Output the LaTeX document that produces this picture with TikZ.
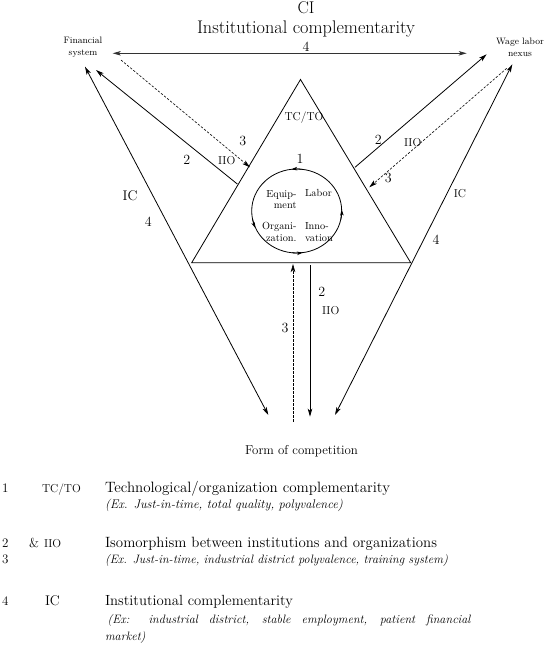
\documentclass[tikz,border=0pt]{standalone}
\usetikzlibrary{arrows.meta,calc}
\newlength\fitlen
\newcommand\fitsize[3]{% #1 macro, #2 target width, #3 text (current shape)
  \settowidth\fitlen{\fontsize{10}{12}\selectfont #3}\pgfmathsetmacro#1{10*#2/\fitlen}%
  \settowidth\fitlen{\fontsize{#1 pt}{12}\selectfont #3}\pgfmathsetmacro#1{#1*#2/\fitlen}%
  \settowidth\fitlen{\fontsize{#1 pt}{12}\selectfont #3}\pgfmathsetmacro#1{#1*#2/\fitlen}}
\newcommand\fitrm[2]{\fitsize\fitsz{#1}{#2}\fontsize{\fitsz pt}{\fitsz pt}\selectfont #2}
\begin{document}
{\itshape\fitsize\itszl{343}{(Ex. Just-in-time, industrial district polyvalence, training system)}\global\let\itsz\itszl}%
{\itshape\fitsize\itszm{238}{(Ex. Just-in-time, total quality, polyvalence)}\global\let\itszA\itszm}%
\begin{tikzpicture}[x=1pt,y=1pt,
  every node/.style={inner sep=0pt,outer sep=0pt},
  >={Stealth[length=8pt,width=4.5pt,inset=2pt]},
  conn/.style={line width=0.8pt},
  dconn/.style={line width=0.6pt,dash pattern=on 2.4pt off 1.6pt},
  num/.style={font=\fontsize{14}{14}\selectfont},
  lnum/.style={font=\fontsize{13}{13}\selectfont},
  sc/.style={font=\fontsize{11.5}{11.5}\selectfont},
  tinyf/.style={font=\fontsize{9.3}{12}\selectfont,align=center},
  inner/.style={font=\fontsize{10.3}{11.7}\selectfont},
  titlef/.style={font=\fontsize{17}{17}\selectfont},
  exf/.style={font=\itshape\fontsize{\itsz pt}{17.5pt}\selectfont}]
\fill[white] (0,0) rectangle (544,-645);
\useasboundingbox (0,0) rectangle (544,-645);
% title
\node[titlef,anchor=base] (ci) at (306,-13.5) {CI};
\node[anchor=base] (title) at (306,-33.5) {\fitrm{218}{Institutional complementarity}};
% corner labels
\node[tinyf] (fin) at (83,-47) {Financial\\system};
\node[tinyf] (wage) at (520,-47) {Wage labor\\nexus};
\node[anchor=base] (foc) at (301.5,-454) {\fitrm{113}{Form of competition}};
% triangle
\coordinate (A) at (300.5,-79.5);
\coordinate (B) at (191.7,-262.7);
\coordinate (C) at (410.7,-262.7);
\draw[conn,line join=miter] (A) -- (B) -- (C) -- cycle;
% circle
\coordinate (cc) at (296.7,-211);
\draw[conn] (cc) ellipse [x radius=45, y radius=42];
\foreach \t in {2,97,204,278}{%
  \pgfmathsetmacro\ts{\t-14}
  \draw[conn,-{Stealth[length=6pt,width=3.5pt,inset=1.5pt]}] ([shift={(cc)}]\ts:45 and 42) arc[start angle=\ts, end angle=\t, x radius=45, y radius=42];}
% top double arrow
\coordinate (t1) at (112.7,-53.3);
\coordinate (t2) at (466.7,-53.3);
\draw[conn,black!80,<->] (t1) -- (t2);
\node[num] (n4top) at (306,-46.7) {4};
% left side
\coordinate (fIC) at (85,-66.7);
\coordinate (bIC) at (268.3,-415);
\draw[conn,<->] (fIC) -- (bIC);
\coordinate (f2) at (96,-70);
\coordinate (s2) at (237.3,-184);
\draw[conn,->] (s2) -- (f2);
\coordinate (f3) at (121,-60);
\coordinate (s3) at (250,-167.3);
\draw[dconn,->] (f3) -- (s3);
% right side
\coordinate (w2) at (486.7,-54.3);
\coordinate (r2) at (355,-167.3);
\draw[conn,->] (r2) -- (w2);
\coordinate (w3) at (506.7,-68.3);
\coordinate (r3) at (369.3,-187.3);
\draw[dconn,->] (w3) -- (r3);
\coordinate (wIC) at (512.3,-64.3);
\coordinate (bIC2) at (335,-415);
\draw[conn,<->] (wIC) -- (bIC2);
% bottom
\coordinate (v2a) at (310,-265);
\coordinate (v2b) at (310,-416.7);
\draw[conn,->] (v2a) -- (v2b);
\coordinate (v3a) at (293,-421.7);
\coordinate (v3b) at (293,-264);
\draw[dconn,->] (v3a) -- (v3b);
% labels in diagram
\node[sc] (tcto) at (304,-118) {TC/TO};
\node[num] (one) at (300,-159.3) {1};
\node[inner,anchor=east,align=right] (equip) at (296.5,-199.5) {Equip-\\ment};
\node[inner,anchor=west] (labor) at (305,-193.3) {Labor};
\node[inner,anchor=east,align=right] (organ) at (296.5,-232) {Organi-\\zation.};
\node[inner,anchor=west,align=left] (innov) at (305,-232) {Inno-\\vation};
\node[num] (l2) at (186.7,-160) {2};
\node[sc] (liio) at (226.7,-160.5) {IIO};
\node[num] (l3) at (242.7,-141) {3};
\node[num] (lic) at (130,-196) {IC};
\node[num] (l4) at (148.3,-221.5) {4};
\node[num] (r2l) at (378.3,-140) {2};
\node[sc] (riio) at (412.7,-142.3) {IIO};
\node[num] (r3l) at (388.3,-177.7) {3};
\node[sc] (ric) at (460,-193.3) {IC};
\node[num] (r4l) at (436,-240) {4};
\node[num] (b2l) at (321.7,-291.7) {2};
\node[sc] (biio) at (330.7,-310.7) {IIO};
\node[num] (b3l) at (285,-328.3) {3};
% legend
\node[lnum,anchor=base west] (g1n) at (2,-492) {1};
\node[sc,anchor=base west] (g1a) at (42,-492) {TC/TO};
\node[anchor=base west] (g1t) at (105,-492) {\fitrm{285}{Technological/organization complementarity}};
\node[font=\itshape\fontsize{\itszA pt}{17.5pt}\selectfont,anchor=base west] (g1e) at (105,-508.5) {(Ex. Just-in-time, total quality, polyvalence)};
\node[lnum,anchor=base west] (g2n) at (2,-547) {2};
\node[lnum,anchor=base west] (g2amp) at (29,-547) {\&};
\node[sc,anchor=base west] (g2a) at (44,-547) {IIO};
\node[lnum,anchor=base west] (g3n) at (2,-563.5) {3};
\node[anchor=base west] (g2t) at (105,-547) {\fitrm{332}{Isomorphism between institutions and organizations}};
\node[exf,anchor=base west] (g2e) at (105,-563.5) {(Ex. Just-in-time, industrial district polyvalence, training system)};
\node[lnum,anchor=base west] (g4n) at (2,-605.5) {4};
\node[num,anchor=base west] (g4a) at (45,-605.5) {IC};
\node[anchor=base west] (g4t) at (105,-605.5) {\fitrm{188}{Institutional complementarity}};
\node[anchor=base west] (g4e) at (105,-623) {\parbox[t]{365.5pt}{\itshape\fontsize{\itsz pt}{17.5pt}\selectfont\hspace*{2.5pt}(Ex: industrial district, stable employment, patient financial\linebreak market)}};
\end{tikzpicture}
\end{document}
